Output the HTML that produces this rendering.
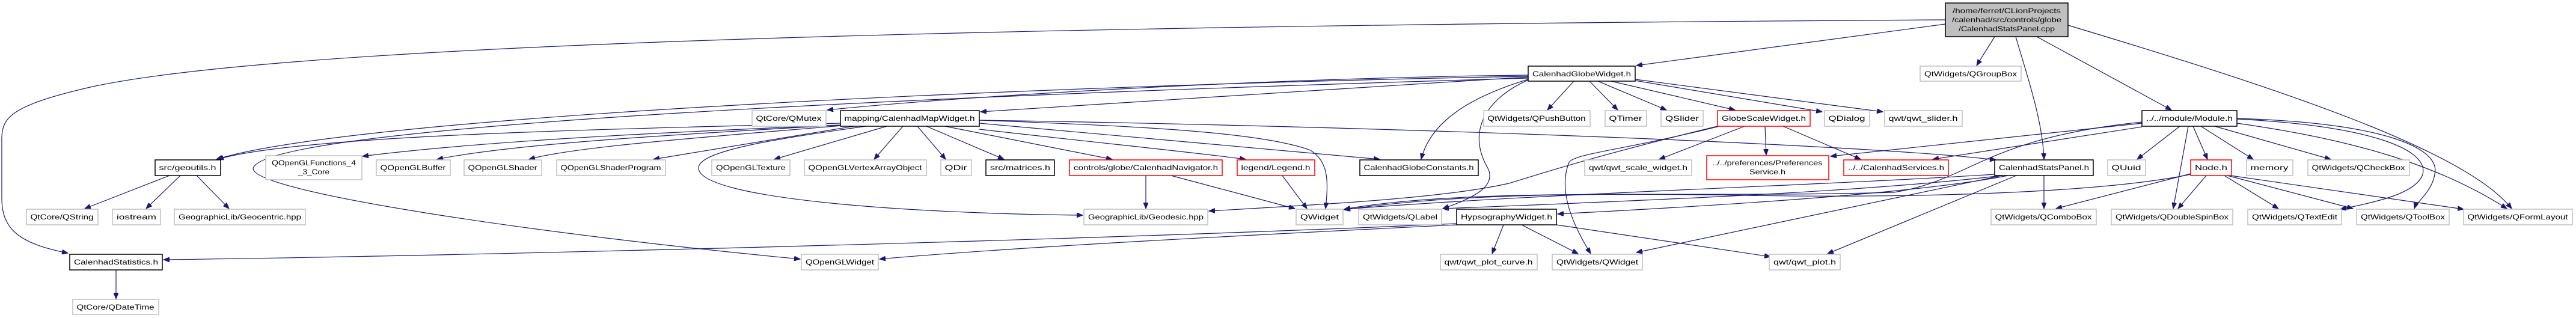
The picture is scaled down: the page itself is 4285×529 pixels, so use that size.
<!DOCTYPE html>
<html><head><meta charset="utf-8"><style>
html,body{margin:0;padding:0;background:#fff;}
svg{display:block;}
text{font-family:"Liberation Sans",sans-serif;font-size:12px;fill:#000;text-anchor:middle;}
.g{fill:#fff;stroke:#bfbfbf;stroke-width:1.5}
.b{fill:#fff;stroke:#000;stroke-width:1.5}
.r{fill:#fff;stroke:#ff0000;stroke-width:1.5}
path{fill:none;stroke:#191970;stroke-width:1.2}
</style></head><body>
<svg width="4285" height="529" viewBox="0 0 4285 529" xmlns="http://www.w3.org/2000/svg">
<defs><marker id="a" markerUnits="userSpaceOnUse" markerWidth="11" markerHeight="8" refX="10" refY="4" orient="auto"><path d="M0,0 L10,4 L0,8 z" style="fill:#191970;stroke:#191970;stroke-width:1"/></marker></defs>
<g marker-end="url(#a)">
<!-- from top -->
<path d="M3236,33 C1200,45 400,90 150,145 C20,175 3,195 3,230 L3,330 C3,380 30,405 113,421"/>
<path d="M3236,40 L2722,109"/>
<path d="M3318,61 L3288,109"/>
<path d="M3353,61 C3370,120 3398,200 3400,265"/>
<path d="M3388,61 L3612,183"/>
<path d="M3440,42 C3800,150 4100,250 4178,347"/>
<!-- globe widget -->
<path d="M2542,128 L1631,186"/>
<path d="M2542,125 C2100,130 1600,160 1376,183"/>
<path d="M2542,127 C1800,140 600,190 360,265"/>
<path d="M2618,135 L2574,183"/>
<path d="M2644,135 L2691,183"/>
<path d="M2658,135 L2772,183"/>
<path d="M2680,135 L2886,183"/>
<path d="M2720,134 L3031,186"/>
<path d="M2720,132 L3132,186"/>
<path d="M2542,132 C2450,160 2380,200 2364,265"/>
<path d="M2542,133 C2470,165 2440,220 2475,280 C2490,310 2450,330 2400,347"/>
<path d="M2542,130 C1500,160 440,210 421,280 C420,320 900,390 1331,431"/>
<!-- map widget -->
<path d="M1629,200 C1900,210 2100,220 2180,250 C2210,270 2210,300 2205,347"/>
<path d="M1398,205 C1000,215 500,225 362,265"/>
<path d="M1398,208 C1100,220 800,235 603,260"/>
<path d="M1398,208 C1100,225 850,240 727,265"/>
<path d="M1400,209 C1150,230 950,245 880,265"/>
<path d="M1420,210 L1087,265"/>
<path d="M1475,210 L1288,265"/>
<path d="M1502,210 L1454,265"/>
<path d="M1526,210 L1573,265"/>
<path d="M1541,210 L1670,265"/>
<path d="M1572,210 L1850,265"/>
<path d="M1629,215 C1850,240 2000,255 2072,265"/>
<path d="M1440,210 C1300,230 1160,250 1162,280 C1165,330 1500,355 1801,358"/>
<path d="M1629,205 C1900,230 2150,250 2295,265"/>
<path d="M1629,200 C2300,210 3100,240 3320,266"/>
<!-- globe scale -->
<path d="M2902,210 L2760,265"/>
<path d="M2936,210 L2938,258"/>
<path d="M2966,210 L3095,265"/>
<path d="M2857,210 C2650,260 2560,290 2510,305 C2400,330 2200,340 2011,351"/>
<path d="M2860,210 C2700,250 2620,255 2610,270 C2590,320 2620,380 2646,422"/>
<!-- module -->
<path d="M3563,211 L3215,265"/>
<path d="M3563,205 L3045,260"/>
<path d="M3626,210 L3555,265"/>
<path d="M3648,210 L3672,265"/>
<path d="M3661,210 L3748,265"/>
<path d="M3684,210 L3877,265"/>
<path d="M3640,210 L3615,347"/>
<path d="M3721,198 C3950,210 4040,250 4030,290 C4020,320 3960,335 3893,348"/>
<path d="M3721,197 C3980,205 4060,250 4050,290 C4045,320 4020,335 4016,347"/>
<path d="M3721,205 C3900,230 4050,270 4170,347"/>
<path d="M3563,203 C3300,230 3280,300 3150,320 C2800,330 2450,310 2236,348"/>
<!-- node -->
<path d="M3644,289 L3420,347"/>
<path d="M3670,292 L3623,347"/>
<path d="M3700,292 L3790,347"/>
<path d="M3705,292 L3914,347"/>
<path d="M3710,292 L4098,348"/>
<path d="M3644,290 C3500,320 3200,330 2900,325 C2600,320 2400,325 2236,349"/>
<!-- stats panel -->
<path d="M3400,292 L3400,347"/>
<path d="M3340,292 C3200,320 2900,340 2591,356"/>
<path d="M3330,292 C3100,320 2700,335 2400,347"/>
<path d="M3330,292 L2722,420"/>
<path d="M3354,292 L3040,422"/>
<path d="M3318,290 C3000,310 2600,320 2236,348"/>
<!-- hypsography -->
<path d="M2501,374 L2482,422"/>
<path d="M2531,374 L2625,422"/>
<path d="M2589,374 L2945,427"/>
<path d="M2423,374 C2100,390 1700,410 1463,431"/>
<path d="M2423,372 C1800,400 800,425 272,432"/>
<!-- navigator / legend -->
<path d="M1906,292 L1906,347"/>
<path d="M1948,292 L2154,347"/>
<path d="M2133,292 L2174,347"/>
<!-- geoutils -->
<path d="M282,292 L141,347"/>
<path d="M300,292 L243,347"/>
<path d="M327,292 L381,347"/>
<path d="M193,449 L193,497"/>
</g>

<!-- nodes -->
<rect x="3236" y="5" width="204" height="56" style="fill:#bfbfbf;stroke:#000;stroke-width:1.5"/>
<text x="3338" y="22" textLength="180" lengthAdjust="spacingAndGlyphs">/home/ferret/CLionProjects</text>
<text x="3338" y="37" textLength="182" lengthAdjust="spacingAndGlyphs">/calenhad/src/controls/globe</text>
<text x="3338" y="52" textLength="160" lengthAdjust="spacingAndGlyphs">/CalenhadStatsPanel.cpp</text>

<rect class="b" x="2542" y="110" width="178" height="25"/><text x="2631" y="127" textLength="164" lengthAdjust="spacingAndGlyphs">CalenhadGlobeWidget.h</text>
<rect class="g" x="3194" y="110" width="168" height="25"/><text x="3278" y="127" textLength="154" lengthAdjust="spacingAndGlyphs">QtWidgets/QGroupBox</text>

<rect class="g" x="1251" y="184" width="123" height="26"/><text x="1312" y="201" textLength="109" lengthAdjust="spacingAndGlyphs">QtCore/QMutex</text>
<rect class="b" x="1398" y="184" width="231" height="26"/><text x="1513" y="201" textLength="217" lengthAdjust="spacingAndGlyphs">mapping/CalenhadMapWidget.h</text>
<rect class="g" x="2468" y="184" width="177" height="26"/><text x="2556" y="201" textLength="163" lengthAdjust="spacingAndGlyphs">QtWidgets/QPushButton</text>
<rect class="g" x="2670" y="184" width="69" height="26"/><text x="2704" y="201" textLength="55" lengthAdjust="spacingAndGlyphs">QTimer</text>
<rect class="g" x="2763" y="184" width="70" height="26"/><text x="2798" y="201" textLength="56" lengthAdjust="spacingAndGlyphs">QSlider</text>
<rect class="r" x="2857" y="184" width="154" height="26"/><text x="2934" y="201" textLength="140" lengthAdjust="spacingAndGlyphs">GlobeScaleWidget.h</text>
<rect class="g" x="3035" y="184" width="75" height="26"/><text x="3072" y="201" textLength="61" lengthAdjust="spacingAndGlyphs">QDialog</text>
<rect class="g" x="3135" y="184" width="129" height="26"/><text x="3199" y="201" textLength="115" lengthAdjust="spacingAndGlyphs">qwt/qwt_slider.h</text>
<rect class="b" x="3563" y="184" width="158" height="26"/><text x="3642" y="201" textLength="144" lengthAdjust="spacingAndGlyphs">../../module/Module.h</text>

<rect class="b" x="258" y="266" width="109" height="26"/><text x="312" y="283" textLength="95" lengthAdjust="spacingAndGlyphs">src/geoutils.h</text>
<rect class="g" x="442" y="259" width="160" height="40"/><text x="522" y="275" textLength="140" lengthAdjust="spacingAndGlyphs">QOpenGLFunctions_4</text><text x="522" y="290" textLength="52" lengthAdjust="spacingAndGlyphs">_3_Core</text>
<rect class="g" x="626" y="266" width="123" height="26"/><text x="687" y="283" textLength="109" lengthAdjust="spacingAndGlyphs">QOpenGLBuffer</text>
<rect class="g" x="772" y="266" width="129" height="26"/><text x="836" y="283" textLength="115" lengthAdjust="spacingAndGlyphs">QOpenGLShader</text>
<rect class="g" x="926" y="266" width="181" height="26"/><text x="1016" y="283" textLength="167" lengthAdjust="spacingAndGlyphs">QOpenGLShaderProgram</text>
<rect class="g" x="1184" y="266" width="130" height="26"/><text x="1249" y="283" textLength="116" lengthAdjust="spacingAndGlyphs">QOpenGLTexture</text>
<rect class="g" x="1338" y="266" width="203" height="26"/><text x="1439" y="283" textLength="189" lengthAdjust="spacingAndGlyphs">QOpenGLVertexArrayObject</text>
<rect class="g" x="1565" y="266" width="51" height="26"/><text x="1590" y="283" textLength="37" lengthAdjust="spacingAndGlyphs">QDir</text>
<rect class="b" x="1640" y="266" width="114" height="26"/><text x="1697" y="283" textLength="100" lengthAdjust="spacingAndGlyphs">src/matrices.h</text>
<rect class="r" x="1779" y="266" width="254" height="26"/><text x="1906" y="283" textLength="240" lengthAdjust="spacingAndGlyphs">controls/globe/CalenhadNavigator.h</text>
<rect class="r" x="2058" y="266" width="129" height="26"/><text x="2122" y="283" textLength="115" lengthAdjust="spacingAndGlyphs">legend/Legend.h</text>
<rect class="b" x="2262" y="266" width="197" height="26"/><text x="2360" y="283" textLength="183" lengthAdjust="spacingAndGlyphs">CalenhadGlobeConstants.h</text>
<rect class="g" x="2636" y="266" width="178" height="26"/><text x="2725" y="283" textLength="164" lengthAdjust="spacingAndGlyphs">qwt/qwt_scale_widget.h</text>
<rect class="r" x="2839" y="259" width="203" height="40"/><text x="2940" y="275" textLength="183" lengthAdjust="spacingAndGlyphs">../../preferences/Preferences</text><text x="2940" y="290" textLength="60" lengthAdjust="spacingAndGlyphs">Service.h</text>
<rect class="r" x="3067" y="266" width="174" height="26"/><text x="3154" y="283" textLength="160" lengthAdjust="spacingAndGlyphs">../../CalenhadServices.h</text>
<rect class="b" x="3318" y="266" width="164" height="26"/><text x="3400" y="283" textLength="150" lengthAdjust="spacingAndGlyphs">CalenhadStatsPanel.h</text>
<rect class="g" x="3506" y="266" width="63" height="26"/><text x="3537" y="283" textLength="49" lengthAdjust="spacingAndGlyphs">QUuid</text>
<rect class="r" x="3644" y="266" width="68" height="26"/><text x="3678" y="283" textLength="54" lengthAdjust="spacingAndGlyphs">Node.h</text>
<rect class="g" x="3737" y="266" width="77" height="26"/><text x="3775" y="283" textLength="63" lengthAdjust="spacingAndGlyphs">memory</text>
<rect class="g" x="3839" y="266" width="169" height="26"/><text x="3923" y="283" textLength="155" lengthAdjust="spacingAndGlyphs">QtWidgets/QCheckBox</text>

<rect class="g" x="44" y="348" width="119" height="26"/><text x="103" y="365" textLength="105" lengthAdjust="spacingAndGlyphs">QtCore/QString</text>
<rect class="g" x="187" y="348" width="80" height="26"/><text x="227" y="365" textLength="66" lengthAdjust="spacingAndGlyphs">iostream</text>
<rect class="g" x="290" y="348" width="218" height="26"/><text x="399" y="365" textLength="204" lengthAdjust="spacingAndGlyphs">GeographicLib/Geocentric.hpp</text>
<rect class="g" x="1803" y="348" width="206" height="26"/><text x="1906" y="365" textLength="192" lengthAdjust="spacingAndGlyphs">GeographicLib/Geodesic.hpp</text>
<rect class="g" x="2156" y="348" width="78" height="26"/><text x="2195" y="365" textLength="64" lengthAdjust="spacingAndGlyphs">QWidget</text>
<rect class="g" x="2260" y="348" width="138" height="26"/><text x="2329" y="365" textLength="124" lengthAdjust="spacingAndGlyphs">QtWidgets/QLabel</text>
<rect class="b" x="2423" y="348" width="166" height="26"/><text x="2506" y="365" textLength="152" lengthAdjust="spacingAndGlyphs">HypsographyWidget.h</text>
<rect class="g" x="3312" y="348" width="175" height="26"/><text x="3399" y="365" textLength="161" lengthAdjust="spacingAndGlyphs">QtWidgets/QComboBox</text>
<rect class="g" x="3512" y="348" width="202" height="26"/><text x="3613" y="365" textLength="188" lengthAdjust="spacingAndGlyphs">QtWidgets/QDoubleSpinBox</text>
<rect class="g" x="3739" y="348" width="156" height="26"/><text x="3817" y="365" textLength="142" lengthAdjust="spacingAndGlyphs">QtWidgets/QTextEdit</text>
<rect class="g" x="3920" y="348" width="154" height="26"/><text x="3997" y="365" textLength="140" lengthAdjust="spacingAndGlyphs">QtWidgets/QToolBox</text>
<rect class="g" x="4098" y="348" width="181" height="26"/><text x="4188" y="365" textLength="167" lengthAdjust="spacingAndGlyphs">QtWidgets/QFormLayout</text>

<rect class="b" x="116" y="423" width="154" height="26"/><text x="193" y="440" textLength="140" lengthAdjust="spacingAndGlyphs">CalenhadStatistics.h</text>
<rect class="g" x="1333" y="423" width="128" height="26"/><text x="1397" y="440" textLength="114" lengthAdjust="spacingAndGlyphs">QOpenGLWidget</text>
<rect class="g" x="2396" y="423" width="161" height="26"/><text x="2476" y="440" textLength="147" lengthAdjust="spacingAndGlyphs">qwt/qwt_plot_curve.h</text>
<rect class="g" x="2582" y="423" width="150" height="26"/><text x="2657" y="440" textLength="136" lengthAdjust="spacingAndGlyphs">QtWidgets/QWidget</text>
<rect class="g" x="2943" y="423" width="118" height="26"/><text x="3002" y="440" textLength="104" lengthAdjust="spacingAndGlyphs">qwt/qwt_plot.h</text>

<rect class="g" x="121" y="498" width="143" height="25"/><text x="192" y="515" textLength="129" lengthAdjust="spacingAndGlyphs">QtCore/QDateTime</text>
</svg>
</body></html>
